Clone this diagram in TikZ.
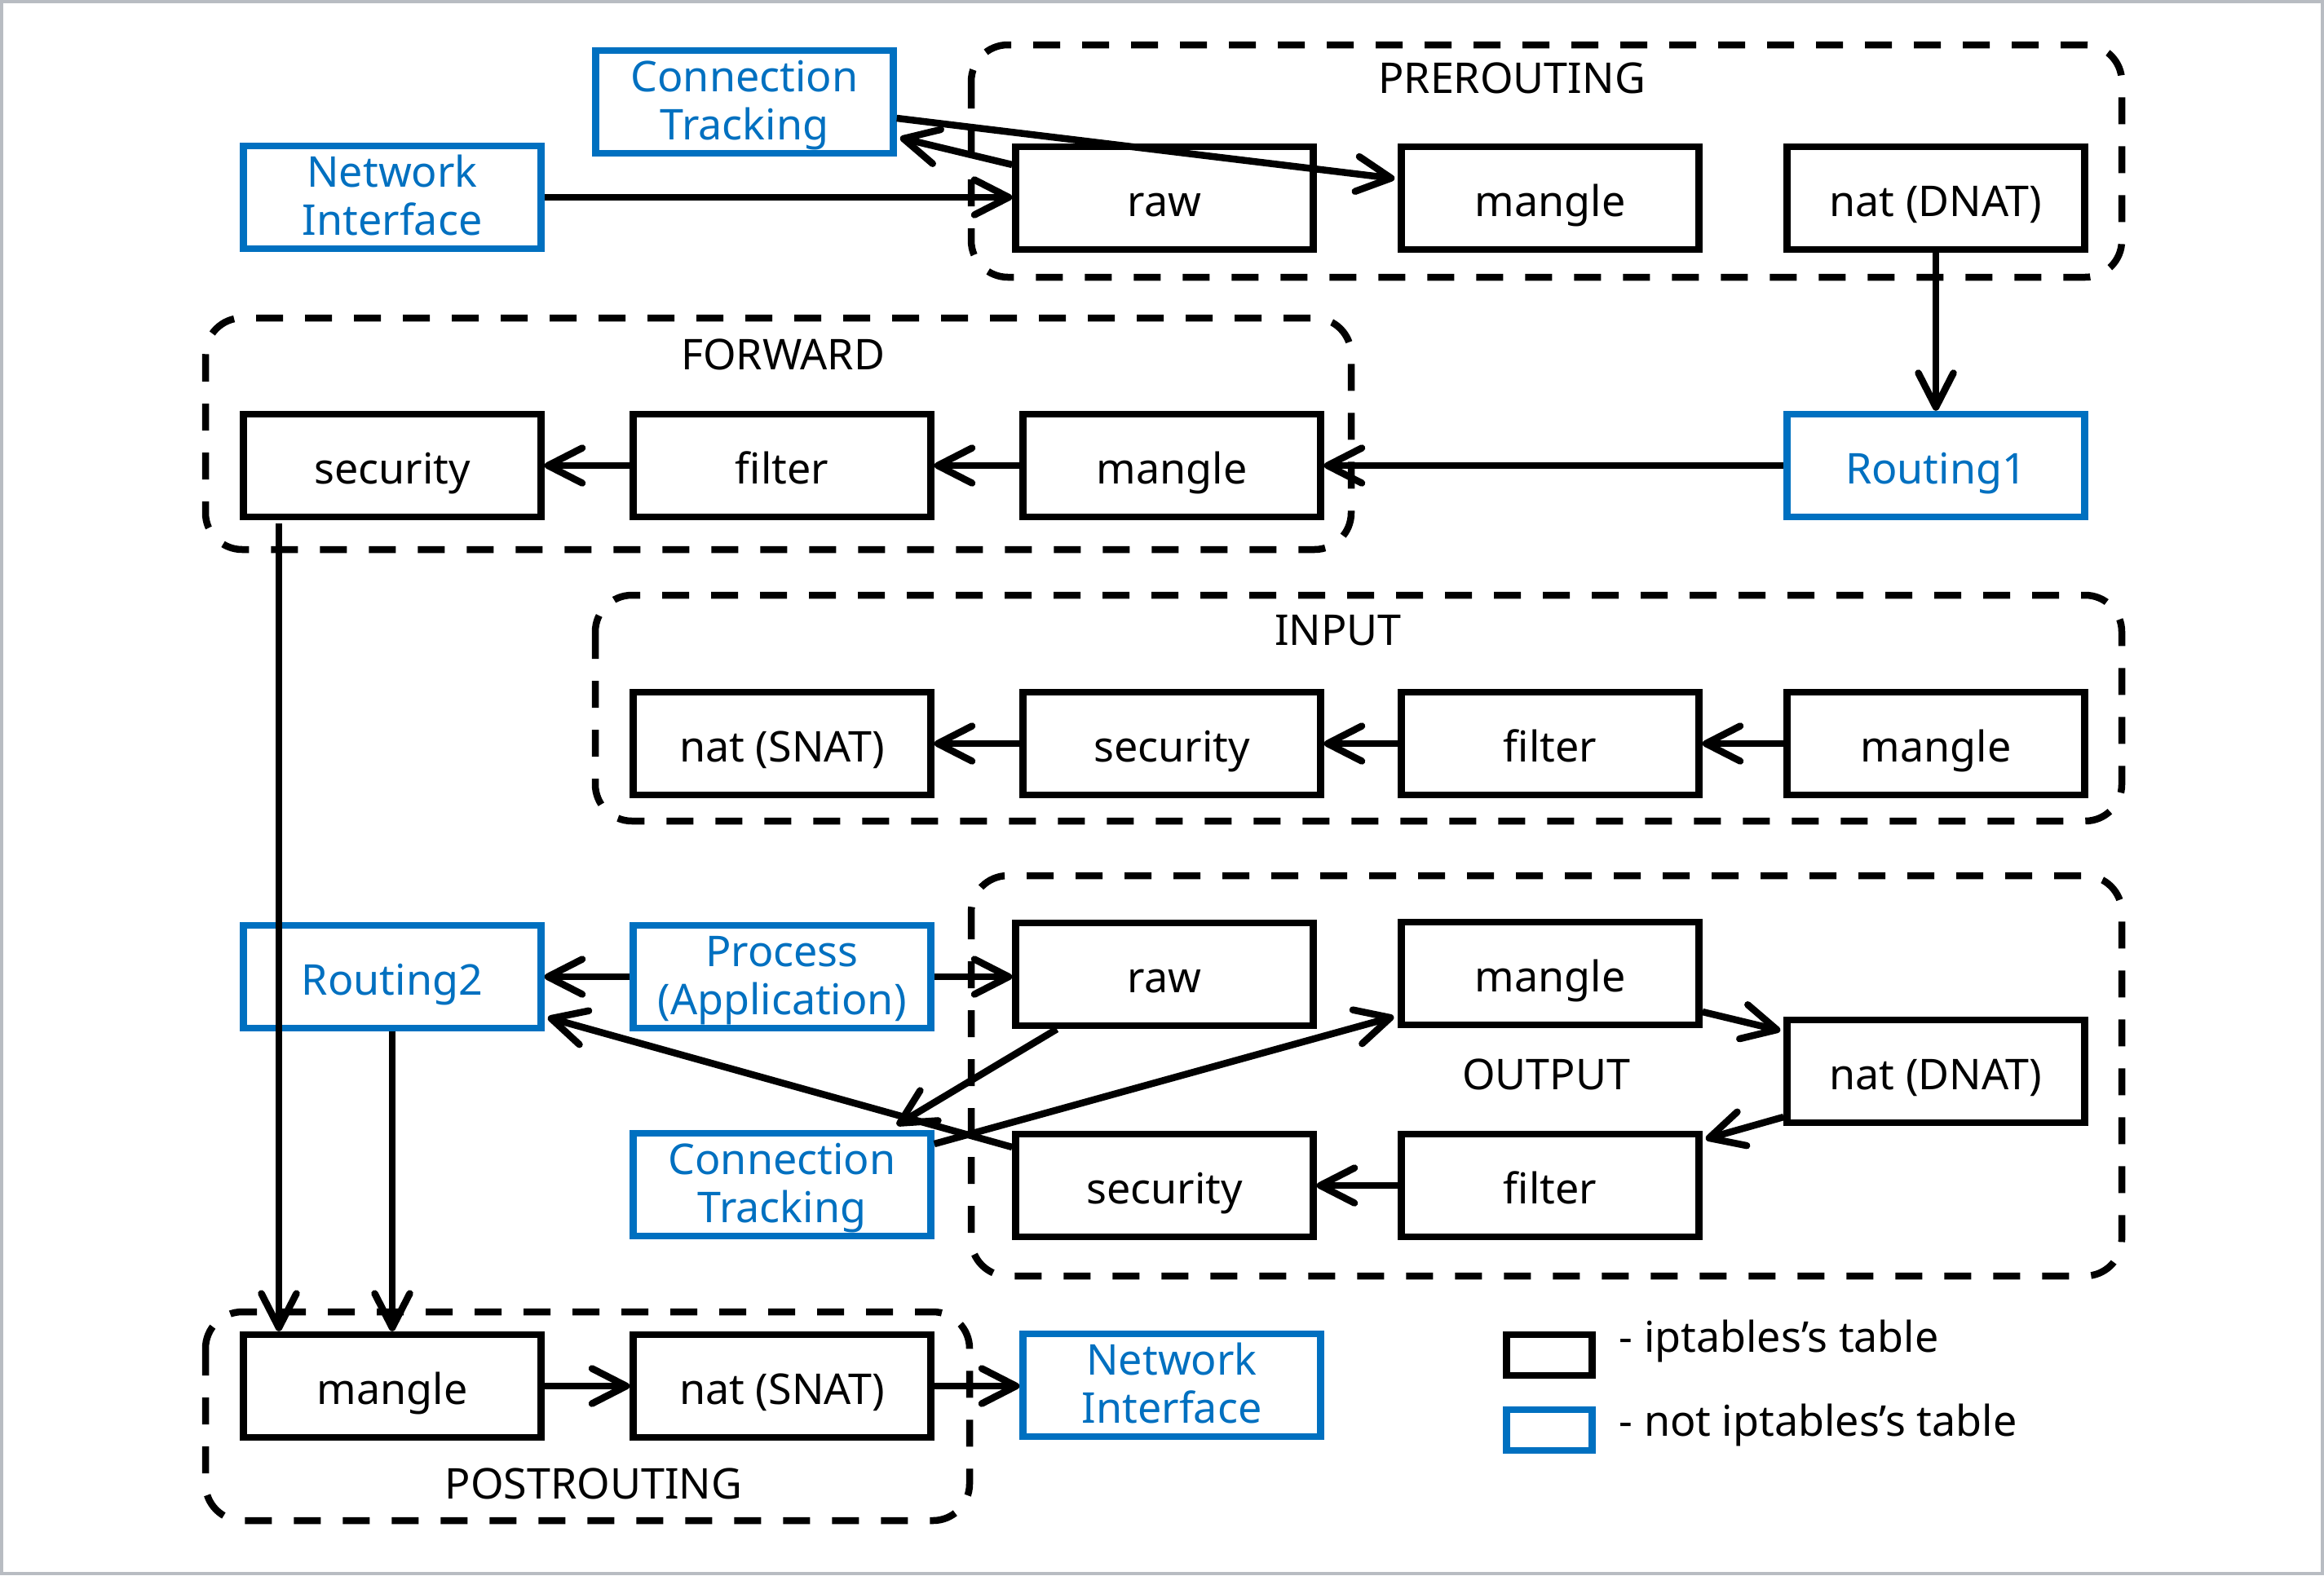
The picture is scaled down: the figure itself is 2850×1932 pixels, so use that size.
\documentclass[tikz,border=0pt]{standalone}
\usepackage{fontspec}
\setmainfont{Noto Sans}
\usetikzlibrary{arrows.meta,calc}
\definecolor{tblblue}{HTML}{0070C0}
\definecolor{framegray}{HTML}{B8BCC2}
\newcommand\lntop{\rule{0pt}{5.0mm}}
\newcommand\lnbot{\rule[-1.56mm]{0pt}{1.56mm}}
\begin{document}
\begin{tikzpicture}[x=0.1mm,y=-0.1mm,
  every node/.style={font=\fontsize{14.8}{16.8}\selectfont, inner sep=0pt, align=center},
  boxbase/.style={draw=black, line width=0.85mm, minimum width=36.5mm, minimum height=12.6mm},
  tbl/.style={boxbase, text height=4.4mm, text depth=0mm},
  exttbl/.style={tbl, draw=tblblue, text=tblblue},
  twoline/.style={boxbase, draw=tblblue, text=tblblue},
  chainbox/.style={draw=black, line width=0.85mm, dash pattern=on 3.3mm off 2.7mm, rounded corners=4.5mm},
  flow/.style={line width=0.85mm, -{Straight Barb[length=4.2mm,width=4.3mm,line cap=round,line join=round]}},
  legendbox/.style={minimum width=10.5mm, minimum height=5mm, text height=0mm}
]
\useasboundingbox (0,0) rectangle (2850,1932);
\fill[white] (0,0) rectangle (2850,1932);
\draw[framegray, line width=0.4mm] (2,2) rectangle (2848,1930);

% chains
\draw[chainbox] (1191,55) rectangle (2602,340);
\draw[chainbox] (252,390) rectangle (1657,674);
\draw[chainbox] (730,730) rectangle (2602,1007);
\draw[chainbox] (1191,1074) rectangle (2602,1565);
\draw[chainbox] (252,1609) rectangle (1189,1865);

\node (lpre) at (1854,96) {PREROUTING};
\node (lfwd) at (960,435) {FORWARD};
\node (lin) at (1641,773) {INPUT};
\node (lout) at (1896,1318) {OUTPUT};
\node (lpost) at (728,1820) {POSTROUTING};

% boxes
\node[twoline] (ni1) at (481,242) {\lntop Network\\Interface\lnbot};
\node[twoline] (ct1) at (913,125) {\lntop Connection\\Tracking\lnbot};
\node[tbl] (praw) at (1428,243) {raw};
\node[tbl] (pmg) at (1901,243) {mangle};
\node[tbl] (pnat) at (2374,243) {nat (DNAT)};

\node[tbl] (fsec) at (481,571) {security};
\node[tbl] (ffil) at (959,571) {filter};
\node[tbl] (fmg) at (1437,571) {mangle};
\node[exttbl] (r1) at (2374,571) {Routing1};

\node[tbl] (inat) at (959,912) {nat (SNAT)};
\node[tbl] (isec) at (1437,912) {security};
\node[tbl] (ifil) at (1901,912) {filter};
\node[tbl] (img) at (2374,912) {mangle};

\node[exttbl] (r2) at (481,1198) {Routing2};
\node[twoline] (proc) at (959,1198) {\lntop Process\\(Application)\lnbot};
\node[tbl] (oraw) at (1428,1195) {raw};
\node[tbl] (omg) at (1901,1194) {mangle};
\node[tbl] (onat) at (2374,1314) {nat (DNAT)};
\node[twoline] (ct2) at (959,1453) {\lntop Connection\\Tracking\lnbot};
\node[tbl] (osec) at (1428,1454) {security};
\node[tbl] (ofil) at (1901,1454) {filter};

\node[tbl] (stmg) at (481,1700) {mangle};
\node[tbl] (stnat) at (959,1700) {nat (SNAT)};
\node[twoline] (ni2) at (1437,1699) {\lntop Network\\Interface\lnbot};

% legend
\node[tbl, legendbox] (lg1) at (1900,1662) {};
\node[exttbl, legendbox] (lg2) at (1900,1754) {};
\node[anchor=west] (lt1) at (1985,1645) {- iptables’s table};
\node[anchor=west] (lt2) at (1985,1748) {- not iptables’s table};

% connectors
\draw[flow] (ni1.east) -- (ni1.east -| praw.west);
\draw[flow] ($(praw.west)+(0,-41)$) -- ($(ct1.east)+(4,44)$);
\draw[flow] ($(ct1.east)+(0,20)$) -- ($(pmg.west)+(-4,-24)$);
\draw[flow] (pnat.south) -- (r1.north);
\draw[flow] (r1.west) -- (fmg.east);
\draw[flow] (fmg.west) -- (ffil.east);
\draw[flow] (ffil.west) -- (fsec.east);
\draw[flow] ($(fsec.south)+(-139,4)$) -- ($(stmg.north)+(-139,0)$);
\draw[flow] (r2.south) -- (stmg.north);

\draw[flow] (img.west) -- (ifil.east);
\draw[flow] (ifil.west) -- (isec.east);
\draw[flow] (isec.west) -- (inat.east);

\draw[flow] (proc.west) -- (r2.east);
\draw[flow] (proc.east) -- (proc.east -| oraw.west);
\draw[flow] ($(oraw.south)+(-132,0)$) -- ($(ct2.north east)+(-46,-6)$);
\draw[flow] ($(ct2.east)+(0,-50)$) -- ($(omg.west)+(-5,53)$);
\draw[flow] ($(omg.east)+(0,47)$) -- ($(onat.west)+(-4,-50)$);
\draw[flow] ($(onat.west)+(0,56)$) -- ($(ofil.east)+(4,-57)$);
\draw[flow] (ofil.west) -- (osec.east);
\draw[flow] ($(osec.west)+(0,-47)$) -- ($(r2.east)+(4,50)$);

\draw[flow] (stmg.east) -- (stnat.west);
\draw[flow] (stnat.east) -- (stnat.east -| ni2.west);
\end{tikzpicture}
\end{document}
